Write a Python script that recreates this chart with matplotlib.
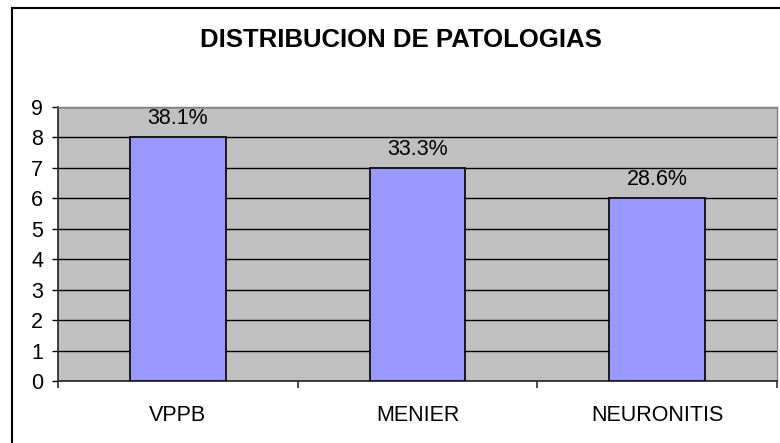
import matplotlib
matplotlib.use("Agg")
import matplotlib.pyplot as plt
from matplotlib.lines import Line2D

categories = ["VPPB", "MENIER", "NEURONITIS"]
counts = [8, 7, 6]
percent_labels = ["38.1%", "33.3%", "28.6%"]
yticks = list(range(0, 10))

plt.rcParams['font.family'] = ['Liberation Sans', 'DejaVu Sans']

W, H = 780, 443
fig = plt.figure(figsize=(W / 100, H / 100), dpi=100)
fig.patch.set_facecolor("white")

ax = fig.add_axes([58 / W, 1 - 381 / H, (777 - 58) / W, (381 - 107) / H])
ax.set_facecolor("#C0C0C0")

x = list(range(len(categories)))
ax.bar(x, counts, width=0.4, color="#9999FF", edgecolor="black", linewidth=1.2, zorder=3)
for xi, c, lab in zip(x, counts, percent_labels):
    ax.annotate(lab, (xi, c), xytext=(0, 9.5), textcoords="offset points",
                ha="center", va="baseline", fontsize=15.5)

ax.set_xlim(-0.5, len(categories) - 0.5)
ax.set_ylim(0, 9)
ax.set_yticks(yticks)
ax.yaxis.grid(True, color="black", linewidth=1, zorder=0)
ax.set_axisbelow(True)

ax.set_xticks(x)
ax.set_xticklabels(categories)
ax.set_xticks([i - 0.5 for i in range(len(categories) + 1)], minor=True)
ax.tick_params(axis="x", which="major", length=0, pad=17, labelsize=15.5)
ax.tick_params(axis="x", which="minor", length=5, direction="out", width=1.2, color="#303030")
ax.tick_params(axis="y", length=4.3, direction="out", width=1, labelsize=15.5, pad=6.5)

for s in ["top", "right"]:
    ax.spines[s].set_color("#808080")
    ax.spines[s].set_linewidth(1)
ax.spines["left"].set_color("#303030")
ax.spines["bottom"].set_color("#303030")
ax.spines["left"].set_linewidth(1.3)
ax.spines["bottom"].set_linewidth(1.3)

fig.text(401 / W, 1 - 46.7 / H, "DISTRIBUCION DE PATOLOGIAS", ha="center", va="baseline",
         fontsize=18.5, fontweight="bold")

# outer chart frame (right/bottom cut off in the original)
fig.add_artist(Line2D([11.5 / W, 11.5 / W], [0, 1 - 7.5 / H], color="black", linewidth=1.5,
                      transform=fig.transFigure))
fig.add_artist(Line2D([11.5 / W, 1], [1 - 7.5 / H, 1 - 7.5 / H], color="black", linewidth=1.5,
                      transform=fig.transFigure))

fig.savefig("out.png", dpi=100)
